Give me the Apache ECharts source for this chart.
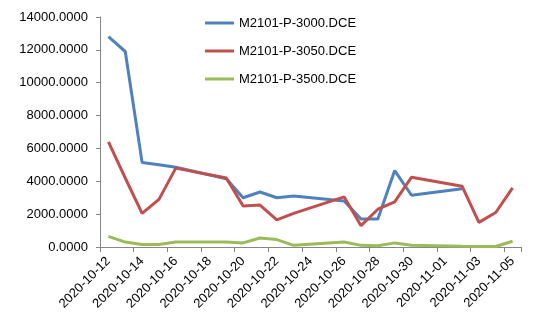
<!DOCTYPE html>
<html>
<head>
<meta charset="utf-8">
<script src="https://cdn.jsdelivr.net/npm/echarts@6/dist/echarts.min.js"></script>
<style>html,body{margin:0;padding:0;background:#fff;}#c{width:550px;height:330px;}</style>
</head>
<body>
<div id="c"></div>
<script>
var calendarDates = ['2020-10-12','2020-10-13','2020-10-14','2020-10-15','2020-10-16','2020-10-17','2020-10-18','2020-10-19','2020-10-20','2020-10-21','2020-10-22','2020-10-23','2020-10-24','2020-10-25','2020-10-26','2020-10-27','2020-10-28','2020-10-29','2020-10-30','2020-10-31','2020-11-01','2020-11-02','2020-11-03','2020-11-04','2020-11-05'];
var tradeDates = ['2020-10-12','2020-10-13','2020-10-14','2020-10-15','2020-10-16','2020-10-19','2020-10-20','2020-10-21','2020-10-22','2020-10-23','2020-10-26','2020-10-27','2020-10-28','2020-10-29','2020-10-30','2020-11-02','2020-11-03','2020-11-04','2020-11-05'];
var seriesNames = ['M2101-P-3000.DCE','M2101-P-3050.DCE','M2101-P-3500.DCE'];
var p3000 = [12800,11900,5150,5000,4850,4150,3000,3350,3000,3100,2800,1700,1700,4650,3150,3550,null,null,null];
var p3050 = [6400,4200,2050,2900,4800,4200,2500,2550,1650,2050,3050,1300,2300,2750,4250,3700,1500,2100,3600];
var p3500 = [650,300,150,150,300,300,250,550,450,100,300,100,80,250,100,40,30,30,350];
var colors = ['#4F81BD','#C0504D','#9BBB59'];

function toData(vals){
  var out = [];
  for (var i = 0; i < tradeDates.length; i++) {
    if (vals[i] !== null) out.push([calendarDates.indexOf(tradeDates[i]), vals[i]]);
  }
  return out;
}
var allVals = [p3000, p3050, p3500];
var series = allVals.map(function(v, k){
  return {
    name: seriesNames[k], type: 'line', data: toData(v), symbol: 'none',
    lineStyle: {width: 3, color: colors[k]}, itemStyle: {color: colors[k]},
    connectNulls: true, animation: false
  };
});
var font = 'Liberation Sans';
var chart = echarts.init(document.getElementById('c'));
chart.setOption({
  animation: false,
  textStyle: {fontFamily: font},
  grid: {left: 100, right: 29, top: 17, bottom: 83, containLabel: false},
  legend: {
    orient: 'vertical', left: 205, top: 16, padding: 0, itemWidth: 29, itemHeight: 3, itemGap: 14,
    icon: 'rect', data: seriesNames,
    textStyle: {fontSize: 13, color: '#000', fontFamily: font, lineHeight: 14}
  },
  xAxis: {
    type: 'category', data: calendarDates, boundaryGap: true,
    axisLine: {lineStyle: {color: '#868686', width: 1}},
    axisTick: {show: true, interval: 1, length: 5, lineStyle: {color: '#868686'}},
    axisLabel: {interval: 1, rotate: 45, fontSize: 13, color: '#000', margin: 12, fontFamily: font}
  },
  yAxis: {
    type: 'value', min: 0, max: 14000, interval: 2000,
    axisLine: {show: true, lineStyle: {color: '#868686', width: 1}},
    axisTick: {show: true, length: 4, lineStyle: {color: '#868686'}},
    splitLine: {show: false},
    axisLabel: {fontSize: 13, color: '#000', margin: 12, fontFamily: font,
      formatter: function(v){ return v.toFixed(4); }}
  },
  series: series
});
</script>
</body>
</html>
